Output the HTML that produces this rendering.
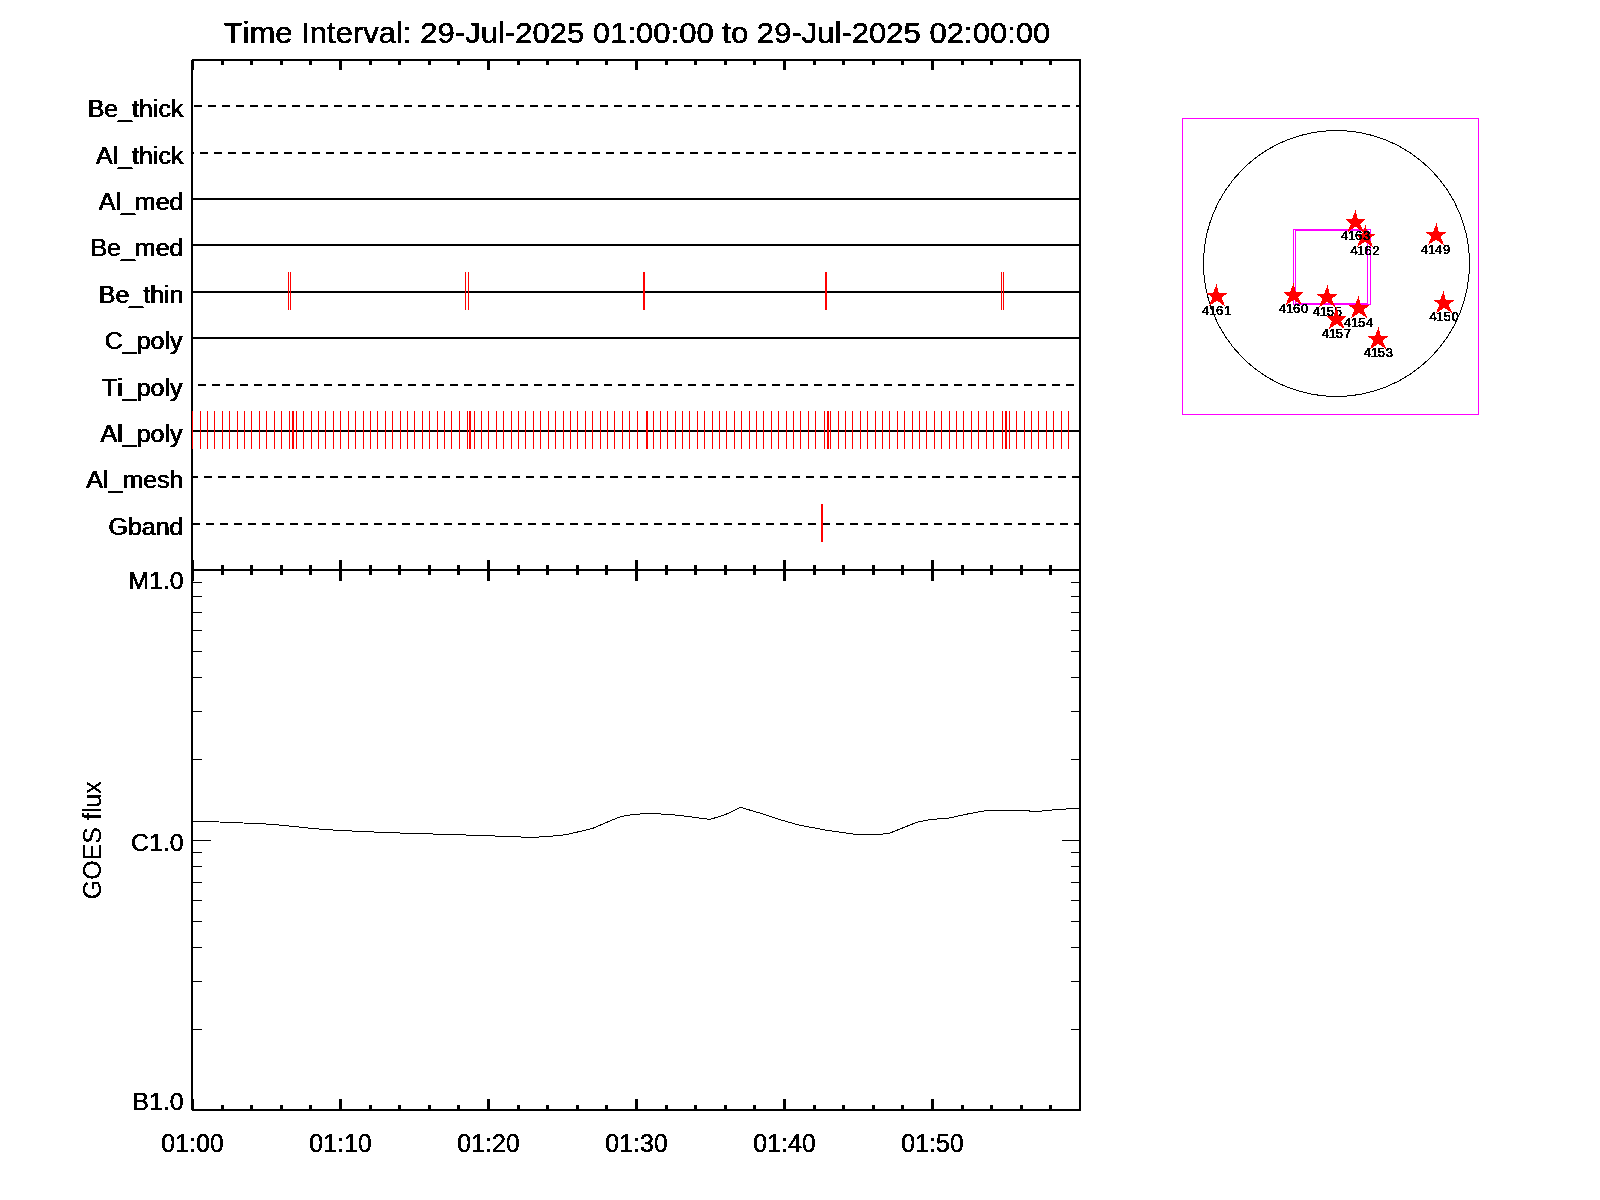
<!DOCTYPE html>
<html>
<head>
<meta charset="utf-8">
<title>XRT timeline</title>
<style>
html, body { margin: 0; padding: 0; background: #fff; }
body { width: 1600px; height: 1200px; overflow: hidden; }
svg { display: block; }
svg text { font-family: "Liberation Sans", sans-serif; fill: #000; font-variant-ligatures: none; font-feature-settings: "liga" 0, "clig" 0; font-kerning: none; }
</style>
</head>
<body>
<svg width="1600" height="1200" viewBox="0 0 1600 1200">
<rect x="0" y="0" width="1600" height="1200" fill="#fff"/>
<g fill="#000" shape-rendering="crispEdges">
<rect x="193" y="523" width="7" height="2"/>
<rect x="206" y="523" width="8" height="2"/>
<rect x="220" y="523" width="8" height="2"/>
<rect x="234" y="523" width="8" height="2"/>
<rect x="248" y="523" width="8" height="2"/>
<rect x="262" y="523" width="8" height="2"/>
<rect x="276" y="523" width="8" height="2"/>
<rect x="290" y="523" width="8" height="2"/>
<rect x="304" y="523" width="8" height="2"/>
<rect x="318" y="523" width="8" height="2"/>
<rect x="332" y="523" width="8" height="2"/>
<rect x="346" y="523" width="8" height="2"/>
<rect x="360" y="523" width="8" height="2"/>
<rect x="374" y="523" width="8" height="2"/>
<rect x="388" y="523" width="8" height="2"/>
<rect x="402" y="523" width="8" height="2"/>
<rect x="416" y="523" width="8" height="2"/>
<rect x="430" y="523" width="8" height="2"/>
<rect x="444" y="523" width="8" height="2"/>
<rect x="458" y="523" width="8" height="2"/>
<rect x="472" y="523" width="8" height="2"/>
<rect x="486" y="523" width="8" height="2"/>
<rect x="500" y="523" width="8" height="2"/>
<rect x="514" y="523" width="8" height="2"/>
<rect x="528" y="523" width="8" height="2"/>
<rect x="542" y="523" width="8" height="2"/>
<rect x="556" y="523" width="8" height="2"/>
<rect x="570" y="523" width="8" height="2"/>
<rect x="584" y="523" width="8" height="2"/>
<rect x="598" y="523" width="8" height="2"/>
<rect x="612" y="523" width="8" height="2"/>
<rect x="626" y="523" width="8" height="2"/>
<rect x="640" y="523" width="8" height="2"/>
<rect x="654" y="523" width="8" height="2"/>
<rect x="668" y="523" width="8" height="2"/>
<rect x="682" y="523" width="8" height="2"/>
<rect x="696" y="523" width="8" height="2"/>
<rect x="710" y="523" width="8" height="2"/>
<rect x="724" y="523" width="8" height="2"/>
<rect x="738" y="523" width="8" height="2"/>
<rect x="752" y="523" width="8" height="2"/>
<rect x="766" y="523" width="8" height="2"/>
<rect x="780" y="523" width="8" height="2"/>
<rect x="794" y="523" width="8" height="2"/>
<rect x="808" y="523" width="8" height="2"/>
<rect x="822" y="523" width="8" height="2"/>
<rect x="836" y="523" width="8" height="2"/>
<rect x="850" y="523" width="8" height="2"/>
<rect x="864" y="523" width="8" height="2"/>
<rect x="878" y="523" width="8" height="2"/>
<rect x="892" y="523" width="8" height="2"/>
<rect x="906" y="523" width="8" height="2"/>
<rect x="920" y="523" width="8" height="2"/>
<rect x="934" y="523" width="8" height="2"/>
<rect x="948" y="523" width="8" height="2"/>
<rect x="962" y="523" width="8" height="2"/>
<rect x="976" y="523" width="8" height="2"/>
<rect x="990" y="523" width="8" height="2"/>
<rect x="1004" y="523" width="8" height="2"/>
<rect x="1018" y="523" width="8" height="2"/>
<rect x="1032" y="523" width="8" height="2"/>
<rect x="1046" y="523" width="8" height="2"/>
<rect x="1060" y="523" width="8" height="2"/>
<rect x="1074" y="523" width="5" height="2"/>
<rect x="193" y="476" width="5" height="2"/>
<rect x="204" y="476" width="8" height="2"/>
<rect x="218" y="476" width="8" height="2"/>
<rect x="232" y="476" width="8" height="2"/>
<rect x="246" y="476" width="8" height="2"/>
<rect x="260" y="476" width="8" height="2"/>
<rect x="274" y="476" width="8" height="2"/>
<rect x="288" y="476" width="8" height="2"/>
<rect x="302" y="476" width="8" height="2"/>
<rect x="316" y="476" width="8" height="2"/>
<rect x="330" y="476" width="8" height="2"/>
<rect x="344" y="476" width="8" height="2"/>
<rect x="358" y="476" width="8" height="2"/>
<rect x="372" y="476" width="8" height="2"/>
<rect x="386" y="476" width="8" height="2"/>
<rect x="400" y="476" width="8" height="2"/>
<rect x="414" y="476" width="8" height="2"/>
<rect x="428" y="476" width="8" height="2"/>
<rect x="442" y="476" width="8" height="2"/>
<rect x="456" y="476" width="8" height="2"/>
<rect x="470" y="476" width="8" height="2"/>
<rect x="484" y="476" width="8" height="2"/>
<rect x="498" y="476" width="8" height="2"/>
<rect x="512" y="476" width="8" height="2"/>
<rect x="526" y="476" width="8" height="2"/>
<rect x="540" y="476" width="8" height="2"/>
<rect x="554" y="476" width="8" height="2"/>
<rect x="568" y="476" width="8" height="2"/>
<rect x="582" y="476" width="8" height="2"/>
<rect x="596" y="476" width="8" height="2"/>
<rect x="610" y="476" width="8" height="2"/>
<rect x="624" y="476" width="8" height="2"/>
<rect x="638" y="476" width="8" height="2"/>
<rect x="652" y="476" width="8" height="2"/>
<rect x="666" y="476" width="8" height="2"/>
<rect x="680" y="476" width="8" height="2"/>
<rect x="694" y="476" width="8" height="2"/>
<rect x="708" y="476" width="8" height="2"/>
<rect x="722" y="476" width="8" height="2"/>
<rect x="736" y="476" width="8" height="2"/>
<rect x="750" y="476" width="8" height="2"/>
<rect x="764" y="476" width="8" height="2"/>
<rect x="778" y="476" width="8" height="2"/>
<rect x="792" y="476" width="8" height="2"/>
<rect x="806" y="476" width="8" height="2"/>
<rect x="820" y="476" width="8" height="2"/>
<rect x="834" y="476" width="8" height="2"/>
<rect x="848" y="476" width="8" height="2"/>
<rect x="862" y="476" width="8" height="2"/>
<rect x="876" y="476" width="8" height="2"/>
<rect x="890" y="476" width="8" height="2"/>
<rect x="904" y="476" width="8" height="2"/>
<rect x="918" y="476" width="8" height="2"/>
<rect x="932" y="476" width="8" height="2"/>
<rect x="946" y="476" width="8" height="2"/>
<rect x="960" y="476" width="8" height="2"/>
<rect x="974" y="476" width="8" height="2"/>
<rect x="988" y="476" width="8" height="2"/>
<rect x="1002" y="476" width="8" height="2"/>
<rect x="1016" y="476" width="8" height="2"/>
<rect x="1030" y="476" width="8" height="2"/>
<rect x="1044" y="476" width="8" height="2"/>
<rect x="1058" y="476" width="8" height="2"/>
<rect x="1072" y="476" width="7" height="2"/>
<rect x="193" y="430" width="886" height="2"/>
<rect x="198" y="384" width="8" height="2"/>
<rect x="212" y="384" width="8" height="2"/>
<rect x="226" y="384" width="8" height="2"/>
<rect x="240" y="384" width="8" height="2"/>
<rect x="254" y="384" width="8" height="2"/>
<rect x="268" y="384" width="8" height="2"/>
<rect x="282" y="384" width="8" height="2"/>
<rect x="296" y="384" width="8" height="2"/>
<rect x="310" y="384" width="8" height="2"/>
<rect x="324" y="384" width="8" height="2"/>
<rect x="338" y="384" width="8" height="2"/>
<rect x="352" y="384" width="8" height="2"/>
<rect x="366" y="384" width="8" height="2"/>
<rect x="380" y="384" width="8" height="2"/>
<rect x="394" y="384" width="8" height="2"/>
<rect x="408" y="384" width="8" height="2"/>
<rect x="422" y="384" width="8" height="2"/>
<rect x="436" y="384" width="8" height="2"/>
<rect x="450" y="384" width="8" height="2"/>
<rect x="464" y="384" width="8" height="2"/>
<rect x="478" y="384" width="8" height="2"/>
<rect x="492" y="384" width="8" height="2"/>
<rect x="506" y="384" width="8" height="2"/>
<rect x="520" y="384" width="8" height="2"/>
<rect x="534" y="384" width="8" height="2"/>
<rect x="548" y="384" width="8" height="2"/>
<rect x="562" y="384" width="8" height="2"/>
<rect x="576" y="384" width="8" height="2"/>
<rect x="590" y="384" width="8" height="2"/>
<rect x="604" y="384" width="8" height="2"/>
<rect x="618" y="384" width="8" height="2"/>
<rect x="632" y="384" width="8" height="2"/>
<rect x="646" y="384" width="8" height="2"/>
<rect x="660" y="384" width="8" height="2"/>
<rect x="674" y="384" width="8" height="2"/>
<rect x="688" y="384" width="8" height="2"/>
<rect x="702" y="384" width="8" height="2"/>
<rect x="716" y="384" width="8" height="2"/>
<rect x="730" y="384" width="8" height="2"/>
<rect x="744" y="384" width="8" height="2"/>
<rect x="758" y="384" width="8" height="2"/>
<rect x="772" y="384" width="8" height="2"/>
<rect x="786" y="384" width="8" height="2"/>
<rect x="800" y="384" width="8" height="2"/>
<rect x="814" y="384" width="8" height="2"/>
<rect x="828" y="384" width="8" height="2"/>
<rect x="842" y="384" width="8" height="2"/>
<rect x="856" y="384" width="8" height="2"/>
<rect x="870" y="384" width="8" height="2"/>
<rect x="884" y="384" width="8" height="2"/>
<rect x="898" y="384" width="8" height="2"/>
<rect x="912" y="384" width="8" height="2"/>
<rect x="926" y="384" width="8" height="2"/>
<rect x="940" y="384" width="8" height="2"/>
<rect x="954" y="384" width="8" height="2"/>
<rect x="968" y="384" width="8" height="2"/>
<rect x="982" y="384" width="8" height="2"/>
<rect x="996" y="384" width="8" height="2"/>
<rect x="1010" y="384" width="8" height="2"/>
<rect x="1024" y="384" width="8" height="2"/>
<rect x="1038" y="384" width="8" height="2"/>
<rect x="1052" y="384" width="8" height="2"/>
<rect x="1066" y="384" width="8" height="2"/>
<rect x="193" y="337" width="886" height="2"/>
<rect x="193" y="291" width="886" height="2"/>
<rect x="193" y="244" width="886" height="2"/>
<rect x="193" y="198" width="886" height="2"/>
<rect x="193" y="152" width="1" height="2"/>
<rect x="200" y="152" width="8" height="2"/>
<rect x="214" y="152" width="8" height="2"/>
<rect x="228" y="152" width="8" height="2"/>
<rect x="242" y="152" width="8" height="2"/>
<rect x="256" y="152" width="8" height="2"/>
<rect x="270" y="152" width="8" height="2"/>
<rect x="284" y="152" width="8" height="2"/>
<rect x="298" y="152" width="8" height="2"/>
<rect x="312" y="152" width="8" height="2"/>
<rect x="326" y="152" width="8" height="2"/>
<rect x="340" y="152" width="8" height="2"/>
<rect x="354" y="152" width="8" height="2"/>
<rect x="368" y="152" width="8" height="2"/>
<rect x="382" y="152" width="8" height="2"/>
<rect x="396" y="152" width="8" height="2"/>
<rect x="410" y="152" width="8" height="2"/>
<rect x="424" y="152" width="8" height="2"/>
<rect x="438" y="152" width="8" height="2"/>
<rect x="452" y="152" width="8" height="2"/>
<rect x="466" y="152" width="8" height="2"/>
<rect x="480" y="152" width="8" height="2"/>
<rect x="494" y="152" width="8" height="2"/>
<rect x="508" y="152" width="8" height="2"/>
<rect x="522" y="152" width="8" height="2"/>
<rect x="536" y="152" width="8" height="2"/>
<rect x="550" y="152" width="8" height="2"/>
<rect x="564" y="152" width="8" height="2"/>
<rect x="578" y="152" width="8" height="2"/>
<rect x="592" y="152" width="8" height="2"/>
<rect x="606" y="152" width="8" height="2"/>
<rect x="620" y="152" width="8" height="2"/>
<rect x="634" y="152" width="8" height="2"/>
<rect x="648" y="152" width="8" height="2"/>
<rect x="662" y="152" width="8" height="2"/>
<rect x="676" y="152" width="8" height="2"/>
<rect x="690" y="152" width="8" height="2"/>
<rect x="704" y="152" width="8" height="2"/>
<rect x="718" y="152" width="8" height="2"/>
<rect x="732" y="152" width="8" height="2"/>
<rect x="746" y="152" width="8" height="2"/>
<rect x="760" y="152" width="8" height="2"/>
<rect x="774" y="152" width="8" height="2"/>
<rect x="788" y="152" width="8" height="2"/>
<rect x="802" y="152" width="8" height="2"/>
<rect x="816" y="152" width="8" height="2"/>
<rect x="830" y="152" width="8" height="2"/>
<rect x="844" y="152" width="8" height="2"/>
<rect x="858" y="152" width="8" height="2"/>
<rect x="872" y="152" width="8" height="2"/>
<rect x="886" y="152" width="8" height="2"/>
<rect x="900" y="152" width="8" height="2"/>
<rect x="914" y="152" width="8" height="2"/>
<rect x="928" y="152" width="8" height="2"/>
<rect x="942" y="152" width="8" height="2"/>
<rect x="956" y="152" width="8" height="2"/>
<rect x="970" y="152" width="8" height="2"/>
<rect x="984" y="152" width="8" height="2"/>
<rect x="998" y="152" width="8" height="2"/>
<rect x="1012" y="152" width="8" height="2"/>
<rect x="1026" y="152" width="8" height="2"/>
<rect x="1040" y="152" width="8" height="2"/>
<rect x="1054" y="152" width="8" height="2"/>
<rect x="1068" y="152" width="8" height="2"/>
<rect x="194" y="105" width="8" height="2"/>
<rect x="208" y="105" width="8" height="2"/>
<rect x="222" y="105" width="8" height="2"/>
<rect x="236" y="105" width="8" height="2"/>
<rect x="250" y="105" width="8" height="2"/>
<rect x="264" y="105" width="8" height="2"/>
<rect x="278" y="105" width="8" height="2"/>
<rect x="292" y="105" width="8" height="2"/>
<rect x="306" y="105" width="8" height="2"/>
<rect x="320" y="105" width="8" height="2"/>
<rect x="334" y="105" width="8" height="2"/>
<rect x="348" y="105" width="8" height="2"/>
<rect x="362" y="105" width="8" height="2"/>
<rect x="376" y="105" width="8" height="2"/>
<rect x="390" y="105" width="8" height="2"/>
<rect x="404" y="105" width="8" height="2"/>
<rect x="418" y="105" width="8" height="2"/>
<rect x="432" y="105" width="8" height="2"/>
<rect x="446" y="105" width="8" height="2"/>
<rect x="460" y="105" width="8" height="2"/>
<rect x="474" y="105" width="8" height="2"/>
<rect x="488" y="105" width="8" height="2"/>
<rect x="502" y="105" width="8" height="2"/>
<rect x="516" y="105" width="8" height="2"/>
<rect x="530" y="105" width="8" height="2"/>
<rect x="544" y="105" width="8" height="2"/>
<rect x="558" y="105" width="8" height="2"/>
<rect x="572" y="105" width="8" height="2"/>
<rect x="586" y="105" width="8" height="2"/>
<rect x="600" y="105" width="8" height="2"/>
<rect x="614" y="105" width="8" height="2"/>
<rect x="628" y="105" width="8" height="2"/>
<rect x="642" y="105" width="8" height="2"/>
<rect x="656" y="105" width="8" height="2"/>
<rect x="670" y="105" width="8" height="2"/>
<rect x="684" y="105" width="8" height="2"/>
<rect x="698" y="105" width="8" height="2"/>
<rect x="712" y="105" width="8" height="2"/>
<rect x="726" y="105" width="8" height="2"/>
<rect x="740" y="105" width="8" height="2"/>
<rect x="754" y="105" width="8" height="2"/>
<rect x="768" y="105" width="8" height="2"/>
<rect x="782" y="105" width="8" height="2"/>
<rect x="796" y="105" width="8" height="2"/>
<rect x="810" y="105" width="8" height="2"/>
<rect x="824" y="105" width="8" height="2"/>
<rect x="838" y="105" width="8" height="2"/>
<rect x="852" y="105" width="8" height="2"/>
<rect x="866" y="105" width="8" height="2"/>
<rect x="880" y="105" width="8" height="2"/>
<rect x="894" y="105" width="8" height="2"/>
<rect x="908" y="105" width="8" height="2"/>
<rect x="922" y="105" width="8" height="2"/>
<rect x="936" y="105" width="8" height="2"/>
<rect x="950" y="105" width="8" height="2"/>
<rect x="964" y="105" width="8" height="2"/>
<rect x="978" y="105" width="8" height="2"/>
<rect x="992" y="105" width="8" height="2"/>
<rect x="1006" y="105" width="8" height="2"/>
<rect x="1020" y="105" width="8" height="2"/>
<rect x="1034" y="105" width="8" height="2"/>
<rect x="1048" y="105" width="8" height="2"/>
<rect x="1062" y="105" width="8" height="2"/>
<rect x="1076" y="105" width="3" height="2"/>
</g>
<polyline points="192,821.5 209,821.5 229.5,822.5 257,823.5 274,824.5 283.5,825.5 294.5,826.5 303.5,827.5 312.5,828.5 325.5,829.5 340.5,830.5 362.5,831.5 384.5,832.5 414.5,833.5 451,834.5 480,835.5 510,836.5 532,837.5 547,836.5 560,835.5 568,834.3 577.5,832 592.5,828.4 605.6,822.8 620.6,816.6 633.75,814.4 648.75,813.4 658,813.8 673,814.75 686,816.25 709.7,819.4 723.75,815.3 740.6,807.4 761,813.4 780,819.6 798.75,825 826.9,830.3 855,834.25 881.25,834.25 889.7,833.1 903.75,827.5 916.9,822.25 930,819.6 948.75,818.1 967.5,814 980.6,811.6 989,810 1027.5,810 1030,811.2 1042.5,811 1057.5,809.5 1079,808.2" fill="none" stroke="#000" stroke-width="1" shape-rendering="crispEdges"/>
<g fill="#000" shape-rendering="crispEdges">
<rect x="191" y="59" width="2" height="1052"/>
<rect x="1079" y="59" width="2" height="1052"/>
<rect x="191" y="59" width="890" height="2"/>
<rect x="191" y="569" width="890" height="2"/>
<rect x="191" y="1109" width="890" height="2"/>
<rect x="191" y="59" width="3" height="11"/>
<rect x="191" y="560" width="3" height="21"/>
<rect x="191" y="1099" width="3" height="12"/>
<rect x="221" y="59" width="3" height="6"/>
<rect x="221" y="565" width="3" height="10"/>
<rect x="221" y="1105" width="3" height="6"/>
<rect x="250" y="59" width="3" height="6"/>
<rect x="250" y="565" width="3" height="10"/>
<rect x="250" y="1105" width="3" height="6"/>
<rect x="280" y="59" width="3" height="6"/>
<rect x="280" y="565" width="3" height="10"/>
<rect x="280" y="1105" width="3" height="6"/>
<rect x="309" y="59" width="3" height="6"/>
<rect x="309" y="565" width="3" height="10"/>
<rect x="309" y="1105" width="3" height="6"/>
<rect x="339" y="59" width="3" height="11"/>
<rect x="339" y="560" width="3" height="21"/>
<rect x="339" y="1099" width="3" height="12"/>
<rect x="369" y="59" width="3" height="6"/>
<rect x="369" y="565" width="3" height="10"/>
<rect x="369" y="1105" width="3" height="6"/>
<rect x="398" y="59" width="3" height="6"/>
<rect x="398" y="565" width="3" height="10"/>
<rect x="398" y="1105" width="3" height="6"/>
<rect x="428" y="59" width="3" height="6"/>
<rect x="428" y="565" width="3" height="10"/>
<rect x="428" y="1105" width="3" height="6"/>
<rect x="457" y="59" width="3" height="6"/>
<rect x="457" y="565" width="3" height="10"/>
<rect x="457" y="1105" width="3" height="6"/>
<rect x="487" y="59" width="3" height="11"/>
<rect x="487" y="560" width="3" height="21"/>
<rect x="487" y="1099" width="3" height="12"/>
<rect x="517" y="59" width="3" height="6"/>
<rect x="517" y="565" width="3" height="10"/>
<rect x="517" y="1105" width="3" height="6"/>
<rect x="546" y="59" width="3" height="6"/>
<rect x="546" y="565" width="3" height="10"/>
<rect x="546" y="1105" width="3" height="6"/>
<rect x="576" y="59" width="3" height="6"/>
<rect x="576" y="565" width="3" height="10"/>
<rect x="576" y="1105" width="3" height="6"/>
<rect x="605" y="59" width="3" height="6"/>
<rect x="605" y="565" width="3" height="10"/>
<rect x="605" y="1105" width="3" height="6"/>
<rect x="635" y="59" width="3" height="11"/>
<rect x="635" y="560" width="3" height="21"/>
<rect x="635" y="1099" width="3" height="12"/>
<rect x="665" y="59" width="3" height="6"/>
<rect x="665" y="565" width="3" height="10"/>
<rect x="665" y="1105" width="3" height="6"/>
<rect x="694" y="59" width="3" height="6"/>
<rect x="694" y="565" width="3" height="10"/>
<rect x="694" y="1105" width="3" height="6"/>
<rect x="724" y="59" width="3" height="6"/>
<rect x="724" y="565" width="3" height="10"/>
<rect x="724" y="1105" width="3" height="6"/>
<rect x="753" y="59" width="3" height="6"/>
<rect x="753" y="565" width="3" height="10"/>
<rect x="753" y="1105" width="3" height="6"/>
<rect x="783" y="59" width="3" height="11"/>
<rect x="783" y="560" width="3" height="21"/>
<rect x="783" y="1099" width="3" height="12"/>
<rect x="813" y="59" width="3" height="6"/>
<rect x="813" y="565" width="3" height="10"/>
<rect x="813" y="1105" width="3" height="6"/>
<rect x="842" y="59" width="3" height="6"/>
<rect x="842" y="565" width="3" height="10"/>
<rect x="842" y="1105" width="3" height="6"/>
<rect x="872" y="59" width="3" height="6"/>
<rect x="872" y="565" width="3" height="10"/>
<rect x="872" y="1105" width="3" height="6"/>
<rect x="901" y="59" width="3" height="6"/>
<rect x="901" y="565" width="3" height="10"/>
<rect x="901" y="1105" width="3" height="6"/>
<rect x="931" y="59" width="3" height="11"/>
<rect x="931" y="560" width="3" height="21"/>
<rect x="931" y="1099" width="3" height="12"/>
<rect x="961" y="59" width="3" height="6"/>
<rect x="961" y="565" width="3" height="10"/>
<rect x="961" y="1105" width="3" height="6"/>
<rect x="990" y="59" width="3" height="6"/>
<rect x="990" y="565" width="3" height="10"/>
<rect x="990" y="1105" width="3" height="6"/>
<rect x="1020" y="59" width="3" height="6"/>
<rect x="1020" y="565" width="3" height="10"/>
<rect x="1020" y="1105" width="3" height="6"/>
<rect x="1049" y="59" width="3" height="6"/>
<rect x="1049" y="565" width="3" height="10"/>
<rect x="1049" y="1105" width="3" height="6"/>
<rect x="193" y="759" width="9" height="1"/>
<rect x="1071" y="759" width="8" height="1"/>
<rect x="193" y="711" width="9" height="1"/>
<rect x="1071" y="711" width="8" height="1"/>
<rect x="193" y="677" width="9" height="1"/>
<rect x="1071" y="677" width="8" height="1"/>
<rect x="193" y="651" width="9" height="1"/>
<rect x="1071" y="651" width="8" height="1"/>
<rect x="193" y="630" width="9" height="1"/>
<rect x="1071" y="630" width="8" height="1"/>
<rect x="193" y="612" width="9" height="1"/>
<rect x="1071" y="612" width="8" height="1"/>
<rect x="193" y="596" width="9" height="1"/>
<rect x="1071" y="596" width="8" height="1"/>
<rect x="193" y="582" width="9" height="1"/>
<rect x="1071" y="582" width="8" height="1"/>
<rect x="193" y="1029" width="9" height="1"/>
<rect x="1071" y="1029" width="8" height="1"/>
<rect x="193" y="981" width="9" height="1"/>
<rect x="1071" y="981" width="8" height="1"/>
<rect x="193" y="947" width="9" height="1"/>
<rect x="1071" y="947" width="8" height="1"/>
<rect x="193" y="921" width="9" height="1"/>
<rect x="1071" y="921" width="8" height="1"/>
<rect x="193" y="900" width="9" height="1"/>
<rect x="1071" y="900" width="8" height="1"/>
<rect x="193" y="882" width="9" height="1"/>
<rect x="1071" y="882" width="8" height="1"/>
<rect x="193" y="866" width="9" height="1"/>
<rect x="1071" y="866" width="8" height="1"/>
<rect x="193" y="852" width="9" height="1"/>
<rect x="1071" y="852" width="8" height="1"/>
<rect x="193" y="840" width="18" height="1"/>
<rect x="1062" y="840" width="17" height="1"/>
<rect x="191" y="59" width="1" height="1" fill="#fff"/>
<rect x="191" y="1110" width="1" height="1" fill="#fff"/>
</g>
<g fill="#f00" shape-rendering="crispEdges">
<rect x="192" y="411" width="1" height="38"/>
<rect x="200" y="411" width="1" height="38"/>
<rect x="207" y="411" width="1" height="38"/>
<rect x="214" y="411" width="1" height="38"/>
<rect x="222" y="411" width="1" height="38"/>
<rect x="229" y="411" width="1" height="38"/>
<rect x="237" y="411" width="1" height="38"/>
<rect x="244" y="411" width="1" height="38"/>
<rect x="251" y="411" width="1" height="38"/>
<rect x="259" y="411" width="1" height="38"/>
<rect x="266" y="411" width="1" height="38"/>
<rect x="274" y="411" width="1" height="38"/>
<rect x="281" y="411" width="1" height="38"/>
<rect x="289" y="411" width="1" height="38"/>
<rect x="292" y="411" width="1" height="38"/>
<rect x="293" y="411" width="1" height="38"/>
<rect x="296" y="411" width="1" height="38"/>
<rect x="303" y="411" width="1" height="38"/>
<rect x="311" y="411" width="1" height="38"/>
<rect x="318" y="411" width="1" height="38"/>
<rect x="325" y="411" width="1" height="38"/>
<rect x="333" y="411" width="1" height="38"/>
<rect x="340" y="411" width="1" height="38"/>
<rect x="348" y="411" width="1" height="38"/>
<rect x="355" y="411" width="1" height="38"/>
<rect x="363" y="411" width="1" height="38"/>
<rect x="370" y="411" width="1" height="38"/>
<rect x="377" y="411" width="1" height="38"/>
<rect x="385" y="411" width="1" height="38"/>
<rect x="392" y="411" width="1" height="38"/>
<rect x="400" y="411" width="1" height="38"/>
<rect x="407" y="411" width="1" height="38"/>
<rect x="414" y="411" width="1" height="38"/>
<rect x="422" y="411" width="1" height="38"/>
<rect x="429" y="411" width="1" height="38"/>
<rect x="437" y="411" width="1" height="38"/>
<rect x="444" y="411" width="1" height="38"/>
<rect x="451" y="411" width="1" height="38"/>
<rect x="459" y="411" width="1" height="38"/>
<rect x="467" y="411" width="1" height="38"/>
<rect x="469" y="411" width="1" height="38"/>
<rect x="470" y="411" width="1" height="38"/>
<rect x="474" y="411" width="1" height="38"/>
<rect x="481" y="411" width="1" height="38"/>
<rect x="488" y="411" width="1" height="38"/>
<rect x="496" y="411" width="1" height="38"/>
<rect x="503" y="411" width="1" height="38"/>
<rect x="511" y="411" width="1" height="38"/>
<rect x="518" y="411" width="1" height="38"/>
<rect x="525" y="411" width="1" height="38"/>
<rect x="533" y="411" width="1" height="38"/>
<rect x="540" y="411" width="1" height="38"/>
<rect x="548" y="411" width="1" height="38"/>
<rect x="555" y="411" width="1" height="38"/>
<rect x="563" y="411" width="1" height="38"/>
<rect x="570" y="411" width="1" height="38"/>
<rect x="577" y="411" width="1" height="38"/>
<rect x="585" y="411" width="1" height="38"/>
<rect x="592" y="411" width="1" height="38"/>
<rect x="600" y="411" width="1" height="38"/>
<rect x="607" y="411" width="1" height="38"/>
<rect x="614" y="411" width="1" height="38"/>
<rect x="622" y="411" width="1" height="38"/>
<rect x="629" y="411" width="1" height="38"/>
<rect x="637" y="411" width="1" height="38"/>
<rect x="646" y="411" width="1" height="38"/>
<rect x="647" y="411" width="1" height="38"/>
<rect x="653" y="411" width="1" height="38"/>
<rect x="660" y="411" width="1" height="38"/>
<rect x="667" y="411" width="1" height="38"/>
<rect x="675" y="411" width="1" height="38"/>
<rect x="682" y="411" width="1" height="38"/>
<rect x="689" y="411" width="1" height="38"/>
<rect x="697" y="411" width="1" height="38"/>
<rect x="704" y="411" width="1" height="38"/>
<rect x="712" y="411" width="1" height="38"/>
<rect x="719" y="411" width="1" height="38"/>
<rect x="726" y="411" width="1" height="38"/>
<rect x="734" y="411" width="1" height="38"/>
<rect x="741" y="411" width="1" height="38"/>
<rect x="749" y="411" width="1" height="38"/>
<rect x="756" y="411" width="1" height="38"/>
<rect x="763" y="411" width="1" height="38"/>
<rect x="771" y="411" width="1" height="38"/>
<rect x="778" y="411" width="1" height="38"/>
<rect x="786" y="411" width="1" height="38"/>
<rect x="793" y="411" width="1" height="38"/>
<rect x="800" y="411" width="1" height="38"/>
<rect x="808" y="411" width="1" height="38"/>
<rect x="815" y="411" width="1" height="38"/>
<rect x="824" y="411" width="1" height="38"/>
<rect x="827" y="411" width="1" height="38"/>
<rect x="828" y="411" width="1" height="38"/>
<rect x="830" y="411" width="1" height="38"/>
<rect x="838" y="411" width="1" height="38"/>
<rect x="845" y="411" width="1" height="38"/>
<rect x="852" y="411" width="1" height="38"/>
<rect x="860" y="411" width="1" height="38"/>
<rect x="867" y="411" width="1" height="38"/>
<rect x="875" y="411" width="1" height="38"/>
<rect x="882" y="411" width="1" height="38"/>
<rect x="889" y="411" width="1" height="38"/>
<rect x="897" y="411" width="1" height="38"/>
<rect x="904" y="411" width="1" height="38"/>
<rect x="912" y="411" width="1" height="38"/>
<rect x="919" y="411" width="1" height="38"/>
<rect x="926" y="411" width="1" height="38"/>
<rect x="934" y="411" width="1" height="38"/>
<rect x="941" y="411" width="1" height="38"/>
<rect x="949" y="411" width="1" height="38"/>
<rect x="956" y="411" width="1" height="38"/>
<rect x="963" y="411" width="1" height="38"/>
<rect x="971" y="411" width="1" height="38"/>
<rect x="978" y="411" width="1" height="38"/>
<rect x="986" y="411" width="1" height="38"/>
<rect x="993" y="411" width="1" height="38"/>
<rect x="1002" y="411" width="1" height="38"/>
<rect x="1005" y="411" width="1" height="38"/>
<rect x="1006" y="411" width="1" height="38"/>
<rect x="1009" y="411" width="1" height="38"/>
<rect x="1016" y="411" width="1" height="38"/>
<rect x="1024" y="411" width="1" height="38"/>
<rect x="1031" y="411" width="1" height="38"/>
<rect x="1038" y="411" width="1" height="38"/>
<rect x="1046" y="411" width="1" height="38"/>
<rect x="1053" y="411" width="1" height="38"/>
<rect x="1061" y="411" width="1" height="38"/>
<rect x="1068" y="411" width="1" height="38"/>
<rect x="288" y="272" width="1" height="38"/>
<rect x="290" y="272" width="1" height="38"/>
<rect x="465" y="272" width="1" height="38"/>
<rect x="468" y="272" width="1" height="38"/>
<rect x="643" y="272" width="1" height="38"/>
<rect x="644" y="272" width="1" height="38"/>
<rect x="825" y="272" width="1" height="38"/>
<rect x="826" y="272" width="1" height="38"/>
<rect x="1001" y="272" width="1" height="38"/>
<rect x="1003" y="272" width="1" height="38"/>
<rect x="821" y="504" width="1" height="38"/>
<rect x="822" y="504" width="1" height="38"/>
</g>
<defs>
<filter id="bin" x="0" y="0" width="1600" height="1200" filterUnits="userSpaceOnUse" color-interpolation-filters="sRGB">
<feComponentTransfer><feFuncA type="discrete" tableValues="0 0 1 1 1"/></feComponentTransfer>
</filter>
<filter id="binb" x="0" y="60" width="200" height="520" filterUnits="userSpaceOnUse" color-interpolation-filters="sRGB">
<feComponentTransfer><feFuncA type="discrete" tableValues="0 1"/></feComponentTransfer>
</filter>
<filter id="binr" x="60" y="700" width="80" height="300" filterUnits="userSpaceOnUse" color-interpolation-filters="sRGB">
<feComponentTransfer><feFuncA type="discrete" tableValues="0 0 1 1 1"/></feComponentTransfer>
</filter>
<filter id="bin2" x="-10%" y="-20%" width="120%" height="140%" color-interpolation-filters="sRGB">
<feComponentTransfer><feFuncA type="discrete" tableValues="0 1"/></feComponentTransfer>
</filter>
</defs>
<g filter="url(#bin)">
<text transform="translate(637.2,42.5) scale(1,0.95)" text-anchor="middle" font-size="31.06" >Time Interval: 29-Jul-2025 01:00:00 to 29-Jul-2025 02:00:00</text>
<text transform="translate(636.7,42.5) scale(1,0.95)" text-anchor="middle" font-size="31.06" >Time Interval: 29-Jul-2025 01:00:00 to 29-Jul-2025 02:00:00</text>
<text transform="translate(184,589) scale(1,0.95)" text-anchor="end" font-size="25" >M1.0</text>
<text transform="translate(183.5,589) scale(1,0.95)" text-anchor="end" font-size="25" >M1.0</text>
<text transform="translate(184,851) scale(1,0.95)" text-anchor="end" font-size="25" >C1.0</text>
<text transform="translate(183.5,851) scale(1,0.95)" text-anchor="end" font-size="25" >C1.0</text>
<text transform="translate(184,1109.5) scale(1,0.95)" text-anchor="end" font-size="25" >B1.0</text>
<text transform="translate(183.5,1109.5) scale(1,0.95)" text-anchor="end" font-size="25" >B1.0</text>
<text transform="translate(192.7,1151.5) scale(1,1.0)" text-anchor="middle" font-size="25" >01:00</text>
<text transform="translate(192.29999999999998,1151.5) scale(1,1.0)" text-anchor="middle" font-size="25" >01:00</text>
<text transform="translate(340.7,1151.5) scale(1,1.0)" text-anchor="middle" font-size="25" >01:10</text>
<text transform="translate(340.3,1151.5) scale(1,1.0)" text-anchor="middle" font-size="25" >01:10</text>
<text transform="translate(488.7,1151.5) scale(1,1.0)" text-anchor="middle" font-size="25" >01:20</text>
<text transform="translate(488.3,1151.5) scale(1,1.0)" text-anchor="middle" font-size="25" >01:20</text>
<text transform="translate(636.7,1151.5) scale(1,1.0)" text-anchor="middle" font-size="25" >01:30</text>
<text transform="translate(636.3000000000001,1151.5) scale(1,1.0)" text-anchor="middle" font-size="25" >01:30</text>
<text transform="translate(784.7,1151.5) scale(1,1.0)" text-anchor="middle" font-size="25" >01:40</text>
<text transform="translate(784.3000000000001,1151.5) scale(1,1.0)" text-anchor="middle" font-size="25" >01:40</text>
<text transform="translate(932.7,1151.5) scale(1,1.0)" text-anchor="middle" font-size="25" >01:50</text>
<text transform="translate(932.3000000000001,1151.5) scale(1,1.0)" text-anchor="middle" font-size="25" >01:50</text>
</g>
<g filter="url(#binb)">
<text transform="translate(184,534.6) scale(1,0.95)" text-anchor="end" font-size="25" >Gband</text>
<text transform="translate(183,534.6) scale(1,0.95)" text-anchor="end" font-size="25" >Gband</text>
<text transform="translate(184,487.6) scale(1,0.95)" text-anchor="end" font-size="25" >Al_mesh</text>
<text transform="translate(183,487.6) scale(1,0.95)" text-anchor="end" font-size="25" >Al_mesh</text>
<text transform="translate(183,441.6) scale(1,0.95)" text-anchor="end" font-size="25" >Al_poly</text>
<text transform="translate(182,441.6) scale(1,0.95)" text-anchor="end" font-size="25" >Al_poly</text>
<text transform="translate(183,395.6) scale(1,0.95)" text-anchor="end" font-size="25" >Ti_poly</text>
<text transform="translate(182,395.6) scale(1,0.95)" text-anchor="end" font-size="25" >Ti_poly</text>
<text transform="translate(183,348.6) scale(1,0.95)" text-anchor="end" font-size="25" >C_poly</text>
<text transform="translate(182,348.6) scale(1,0.95)" text-anchor="end" font-size="25" >C_poly</text>
<text transform="translate(184,302.6) scale(1,0.95)" text-anchor="end" font-size="25" >Be_thin</text>
<text transform="translate(183,302.6) scale(1,0.95)" text-anchor="end" font-size="25" >Be_thin</text>
<text transform="translate(184,255.6) scale(1,0.95)" text-anchor="end" font-size="25" >Be_med</text>
<text transform="translate(183,255.6) scale(1,0.95)" text-anchor="end" font-size="25" >Be_med</text>
<text transform="translate(184,209.6) scale(1,0.95)" text-anchor="end" font-size="25" >Al_med</text>
<text transform="translate(183,209.6) scale(1,0.95)" text-anchor="end" font-size="25" >Al_med</text>
<text transform="translate(184,163.6) scale(1,0.95)" text-anchor="end" font-size="25" >Al_thick</text>
<text transform="translate(183,163.6) scale(1,0.95)" text-anchor="end" font-size="25" >Al_thick</text>
<text transform="translate(184,116.6) scale(1,0.95)" text-anchor="end" font-size="25" >Be_thick</text>
<text transform="translate(183,116.6) scale(1,0.95)" text-anchor="end" font-size="25" >Be_thick</text>
</g>
<g filter="url(#binr)">
<text transform="translate(101,840.2) rotate(-90)" text-anchor="middle" font-size="25">GOES flux</text>
</g>
<g>
<g fill="none" stroke="#f0f" stroke-width="1" shape-rendering="crispEdges"><rect x="1182.5" y="118.5" width="296" height="296"/><rect x="1293.5" y="229.5" width="77" height="75"/><rect x="1295.5" y="230.5" width="72" height="73"/></g>
<circle cx="1336.5" cy="263.5" r="133" fill="none" stroke="#000" stroke-width="1" shape-rendering="crispEdges"/>
<polygon points="1436.50,222.60 1438.76,232.00 1446.30,232.10 1440.60,236.90 1444.30,245.40 1436.00,239.80 1427.70,245.40 1431.40,236.90 1425.70,232.10 1433.32,232.00" fill="#f00" shape-rendering="crispEdges"/>
<g filter="url(#bin2)"><text transform="translate(0,254) scale(1,1.04)" x="1421.0 1428.0 1435.0 1443.0" y="0" font-size="13" stroke="#000" stroke-width="0.55">4149</text></g>
<polygon points="1443.50,290.60 1445.76,300.00 1454.35,300.10 1448.65,304.90 1452.35,313.40 1444.05,307.80 1435.75,313.40 1439.45,304.90 1433.75,300.10 1440.32,300.00" fill="#f00" shape-rendering="crispEdges"/>
<g filter="url(#bin2)"><text transform="translate(0,321) scale(1,1.04)" x="1429.4 1436.4 1443.4 1451.4" y="0" font-size="13" stroke="#000" stroke-width="0.55">4150</text></g>
<polygon points="1378.50,326.60 1380.76,336.00 1388.35,336.10 1382.65,340.90 1386.35,349.40 1378.05,343.80 1369.75,349.40 1373.45,340.90 1367.75,336.10 1375.32,336.00" fill="#f00" shape-rendering="crispEdges"/>
<g filter="url(#bin2)"><text transform="translate(0,357) scale(1,1.04)" x="1363.8 1370.8 1377.8 1385.8" y="0" font-size="13" stroke="#000" stroke-width="0.55">4153</text></g>
<polygon points="1358.50,295.60 1360.76,305.00 1369.40,305.10 1363.70,309.90 1367.40,318.40 1359.10,312.80 1350.80,318.40 1354.50,309.90 1348.80,305.10 1355.32,305.00" fill="#f00" shape-rendering="crispEdges"/>
<g filter="url(#bin2)"><text transform="translate(0,327) scale(1,1.04)" x="1344.0 1351.0 1358.0 1366.0" y="0" font-size="13" stroke="#000" stroke-width="0.55">4154</text></g>
<polygon points="1327.50,284.60 1329.76,294.00 1337.40,294.10 1331.70,298.90 1335.40,307.40 1327.10,301.80 1318.80,307.40 1322.50,298.90 1316.80,294.10 1324.32,294.00" fill="#f00" shape-rendering="crispEdges"/>
<g filter="url(#bin2)"><text transform="translate(0,316.2) scale(1,1.04)" x="1312.8 1319.8 1326.8 1334.8" y="0" font-size="13" stroke="#000" stroke-width="0.55">4155</text></g>
<polygon points="1336.55,306.60 1338.81,316.00 1346.85,316.10 1341.15,320.90 1344.85,329.40 1336.55,323.80 1328.25,329.40 1331.95,320.90 1326.25,316.10 1333.37,316.00" fill="#f00" shape-rendering="crispEdges"/>
<g filter="url(#bin2)"><text transform="translate(0,338) scale(1,1.04)" x="1321.7 1328.7 1335.7 1343.7" y="0" font-size="13" stroke="#000" stroke-width="0.55">4157</text></g>
<polygon points="1293.50,282.60 1295.76,292.00 1303.90,292.10 1298.20,296.90 1301.90,305.40 1293.60,299.80 1285.30,305.40 1289.00,296.90 1283.30,292.10 1290.32,292.00" fill="#f00" shape-rendering="crispEdges"/>
<g filter="url(#bin2)"><text transform="translate(0,313) scale(1,1.04)" x="1279.0 1286.0 1293.0 1301.0" y="0" font-size="13" stroke="#000" stroke-width="0.55">4160</text></g>
<polygon points="1216.50,283.60 1218.76,293.00 1227.30,293.10 1221.60,297.90 1225.30,306.40 1217.00,300.80 1208.70,306.40 1212.40,297.90 1206.70,293.10 1213.32,293.00" fill="#f00" shape-rendering="crispEdges"/>
<g filter="url(#bin2)"><text transform="translate(0,315) scale(1,1.04)" x="1202.0 1209.0 1216.0 1224.0" y="0" font-size="13" stroke="#000" stroke-width="0.55">4161</text></g>
<polygon points="1365.50,224.60 1367.76,234.00 1375.30,234.10 1369.60,238.90 1373.30,247.40 1365.00,241.80 1356.70,247.40 1360.40,238.90 1354.70,234.10 1362.32,234.00" fill="#f00" shape-rendering="crispEdges"/>
<g filter="url(#bin2)"><text transform="translate(0,255) scale(1,1.04)" x="1350.6 1357.6 1364.6 1372.6" y="0" font-size="13" stroke="#000" stroke-width="0.55">4162</text></g>
<polygon points="1355.50,209.60 1357.76,219.00 1365.80,219.10 1360.10,223.90 1363.80,232.40 1355.50,226.80 1347.20,232.40 1350.90,223.90 1345.20,219.10 1352.32,219.00" fill="#f00" shape-rendering="crispEdges"/>
<g filter="url(#bin2)"><text transform="translate(0,240) scale(1,1.04)" x="1340.9 1347.9 1354.9 1362.9" y="0" font-size="13" stroke="#000" stroke-width="0.55">4163</text></g>
</g>
</svg>
</body>
</html>
